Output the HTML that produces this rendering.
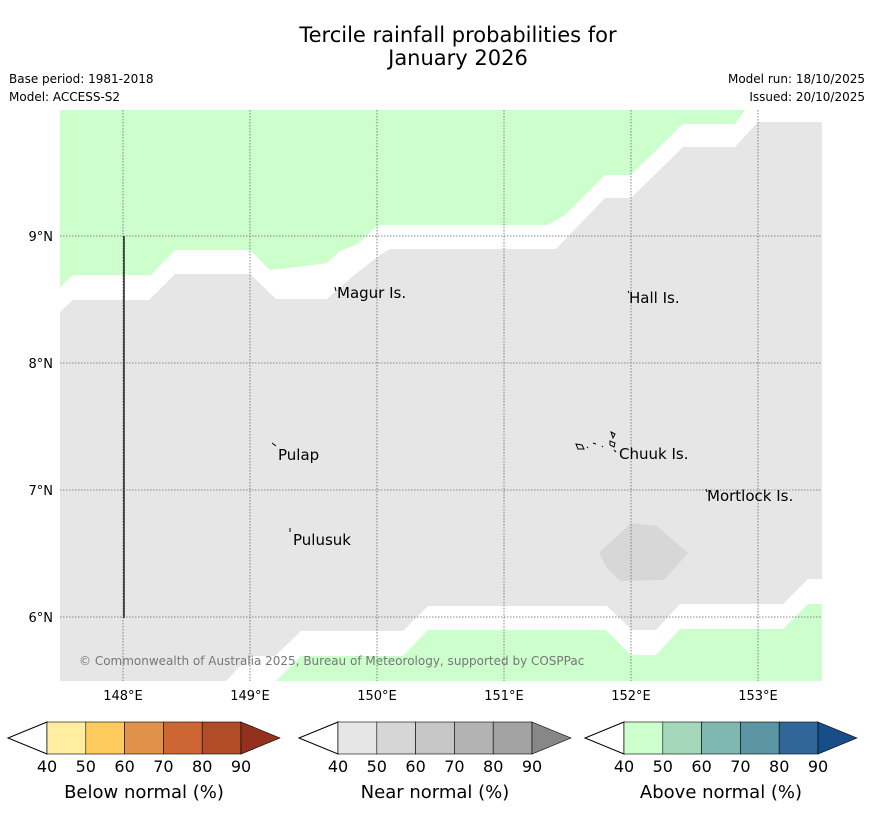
<!DOCTYPE html>
<html><head><meta charset="utf-8"><style>
body{margin:0;background:#fff;font-family:"Liberation Sans","DejaVu Sans",sans-serif}
svg text{font-family:"DejaVu Sans","Liberation Sans",sans-serif}
</style></head><body>
<svg width="873" height="816" viewBox="0 0 873 816" xmlns="http://www.w3.org/2000/svg">
<text x="458" y="42" font-size="21" text-anchor="middle">Tercile rainfall probabilities for</text>
<text x="458" y="65" font-size="21" text-anchor="middle">January 2026</text>
<text x="9" y="83" font-size="12">Base period: 1981-2018</text>
<text x="9" y="101" font-size="12">Model: ACCESS-S2</text>
<text x="865" y="83" font-size="12" text-anchor="end">Model run: 18/10/2025</text>
<text x="865" y="101" font-size="12" text-anchor="end">Issued: 20/10/2025</text>
<g>
<rect x="60" y="110" width="762" height="571" fill="#fff"/>
<polygon fill="#ccffcc" points="60,110 745,110 735,124 683,124 631,175 605,175 565,215 548,225 378,225 358,244 340,251 327,263 290,268 270,270 250,250 175,250 151,275 73,275 60,287"/>
<polygon fill="#e6e6e6" points="60,312 73,300 149,300 175,274 250,274 276,299 327,299 353,276 380,255 390,249 556,249 605,198 631,198 683,147 735,147 758,122 822,122 822,579 808,579 783,604 680,604 656,630 632,630 607,606 428,606 403,631 301,631 275,656 250,656 226,681 60,681"/>
<polygon fill="#d7d7d7" points="599,553 631,523 657,526 688,553 664,580 620,581 607,568"/>
<polygon fill="#ccffcc" points="822,604 808,604 783,629 680,629 656,655 631,655 606,630 428,630 403,656 301,656 276,681 822,681"/>
<g stroke="#666" stroke-width="0.8" stroke-dasharray="1.5,1.5">
<line x1="123" y1="110" x2="123" y2="681"/><line x1="250" y1="110" x2="250" y2="681"/><line x1="377" y1="110" x2="377" y2="681"/><line x1="504" y1="110" x2="504" y2="681"/><line x1="631" y1="110" x2="631" y2="681"/><line x1="758" y1="110" x2="758" y2="681"/>
<line x1="60" y1="236" x2="822" y2="236"/><line x1="60" y1="363" x2="822" y2="363"/><line x1="60" y1="490" x2="822" y2="490"/><line x1="60" y1="617" x2="822" y2="617"/>
</g>
<line x1="124" y1="236" x2="124" y2="618" stroke="#222" stroke-width="1.5"/>
<g fill="none" stroke="#000" stroke-width="1">
<path d="M335,287 l1,4"/><path d="M628,291 l1,2"/><path d="M272,443 l4,3"/><path d="M290,528 l0,4"/><path d="M706,489 l1,3"/>
<path d="M576,444 l6,1 l2,4 l-6,0z M593,443 l3,1 M602,446 l1,1 M611,432 l4,2 l-2,4z M610,441 l5,2 l-1,4 l-4,-2z M614,450 l2,2 M587,447 l1,1"/>
</g>
<g font-size="15">
<text x="337" y="298">Magur Is.</text><text x="629" y="303">Hall Is.</text><text x="278" y="460">Pulap</text><text x="293" y="545">Pulusuk</text><text x="619" y="459">Chuuk Is.</text><text x="707" y="501">Mortlock Is.</text>
</g>
<text x="79" y="665" font-size="12" fill="#777">© Commonwealth of Australia 2025, Bureau of Meteorology, supported by COSPPac</text>
</g>
<g font-size="13">
<text x="123" y="700" text-anchor="middle">148°E</text><text x="250" y="700" text-anchor="middle">149°E</text><text x="377" y="700" text-anchor="middle">150°E</text><text x="504" y="700" text-anchor="middle">151°E</text><text x="631" y="700" text-anchor="middle">152°E</text><text x="758" y="700" text-anchor="middle">153°E</text>
<text x="53" y="241" text-anchor="end">9°N</text><text x="53" y="368" text-anchor="end">8°N</text><text x="53" y="495" text-anchor="end">7°N</text><text x="53" y="622" text-anchor="end">6°N</text>
</g>
<g id="cbars"></g>
</svg>
<script>
const tickLabels=[40,50,60,70,80,90];
const belowColors=["#ffeda0","#fecc5c","#e1914a","#cd6633","#b14b28","#93311e"];
const nearColors=["#e6e6e6","#d6d6d6","#c6c6c6","#b3b3b3","#a3a3a3","#878787"];
const aboveColors=["#ccffcc","#a5d8ba","#80b8b1","#5c95a4","#316698","#174e87"];
const bars=[{name:"below",x:47,cols:belowColors,label:"Below normal (%)"},{name:"near",x:338,cols:nearColors,label:"Near normal (%)"},{name:"above",x:624,cols:aboveColors,label:"Above normal (%)"}];
(function(){
const NS="http://www.w3.org/2000/svg",g=document.getElementById('cbars');


function mk(t,a){const e=document.createElementNS(NS,t);for(const k in a)e.setAttribute(k,a[k]);return e;}
const W=38.8,y0=722,h=32;
bars.forEach(b=>{
 const grp=mk('g',{});
 
 
 grp.appendChild(mk('polygon',{points:`${b.x},${y0} ${b.x-39},${y0+h/2} ${b.x},${y0+h}`,fill:'#fff',stroke:'#000','stroke-width':1}));
 for(let i=0;i<5;i++){grp.appendChild(mk('rect',{x:b.x+i*W,y:y0,width:W,height:h,fill:b.cols[i],stroke:'#000','stroke-width':0.6}));}
 const e=b.x+5*W;
 grp.appendChild(mk('polygon',{points:`${e},${y0} ${e+39},${y0+h/2} ${e},${y0+h}`,fill:b.cols[5],stroke:'#000','stroke-width':0.6}));
 tickLabels.forEach((v,i)=>{const t=mk('text',{x:b.x+i*W,y:772,'font-size':16,'text-anchor':'middle'});t.textContent=v;grp.appendChild(t);});
 const lb=mk('text',{x:b.x+2.5*W,y:798,'font-size':18,'text-anchor':'middle'});lb.textContent=b.label;grp.appendChild(lb);
 g.appendChild(grp);
});
})();
</script>
</body></html>
